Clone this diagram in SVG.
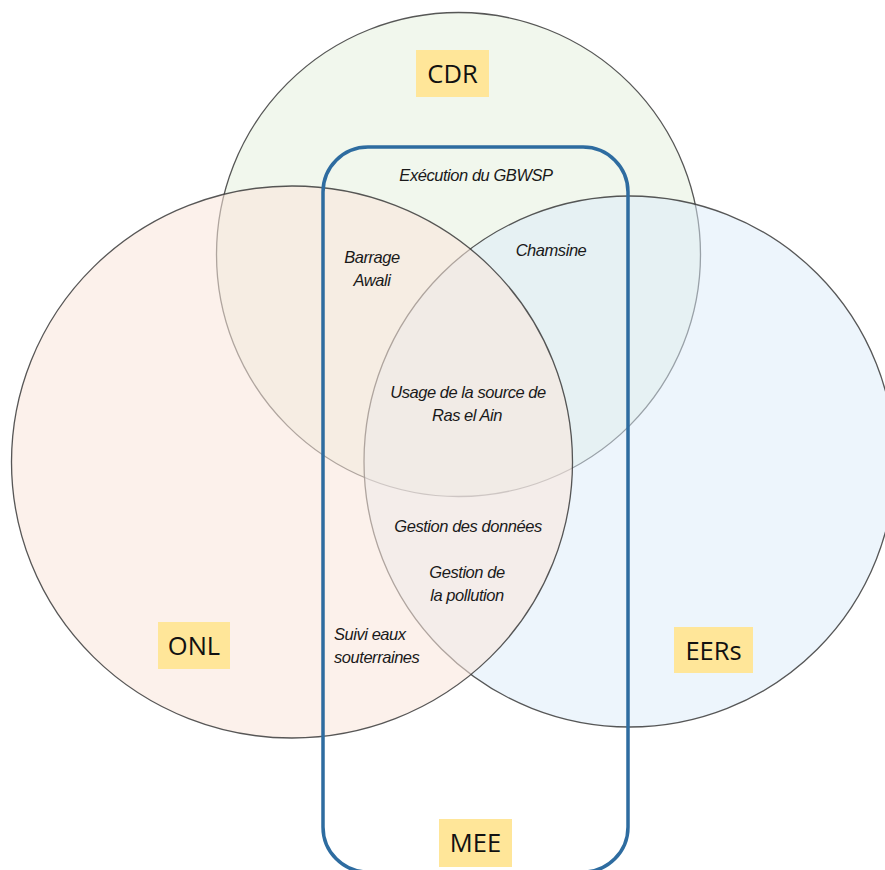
<svg xmlns="http://www.w3.org/2000/svg" width="885" height="870" viewBox="0 0 885 870">
<style>
.circ{stroke:#3a3a3a;stroke-width:1.3;stroke-opacity:0.85}
.lbl{fill:#FFE699}
.big{font-family:"Open Sans","Liberation Sans",sans-serif;font-size:25.5px;fill:#111;text-anchor:middle}
.it{font-family:"Liberation Sans",Arial,sans-serif;font-style:italic;font-size:16.5px;fill:#1a1a1a;letter-spacing:-0.45px}
.c{text-anchor:middle}
</style>
<rect width="885" height="870" fill="#ffffff"/>
<g id="CDR">
<circle class="circ" cx="458.5" cy="254.5" r="242" fill="#E6F0DE" fill-opacity="0.55"/>
</g>
<g id="EERs">
<circle class="circ" cx="629.5" cy="461.5" r="265.5" fill="#DCEBF9" fill-opacity="0.5"/>
</g>
<g id="ONL">
<ellipse class="circ" cx="292" cy="462" rx="280.5" ry="276" fill="#F9E6DA" fill-opacity="0.55"/>
</g>
<g id="MEE">
<rect x="323" y="147" width="305" height="725" rx="45" ry="45" fill="none" stroke="#2E6CA0" stroke-width="3.5"/>
</g>
<g id="labels">
<rect class="lbl" x="416" y="50" width="73" height="47"/>
<text class="big" x="452.5" y="82.5">CDR</text>
<rect class="lbl" x="158" y="622" width="72" height="47"/>
<text class="big" x="194" y="654.5">ONL</text>
<rect class="lbl" x="674" y="627" width="79" height="46"/>
<text class="big" x="713.5" y="659.5">EERs</text>
<rect class="lbl" x="439" y="819" width="73" height="48"/>
<text class="big" x="475.5" y="851.5">MEE</text>
</g>
<g id="items">
<text class="it c" x="476" y="181">Exécution du GBWSP</text>
<text class="it c" x="372" y="263">Barrage</text>
<text class="it c" x="372" y="286">Awali</text>
<text class="it c" x="551" y="256">Chamsine</text>
<text class="it c" x="468" y="398">Usage de la source de</text>
<text class="it c" x="467" y="421">Ras el Ain</text>
<text class="it c" x="468" y="532">Gestion des données</text>
<text class="it c" x="467" y="578">Gestion de</text>
<text class="it c" x="467" y="601">la pollution</text>
<text class="it" x="334" y="640">Suivi eaux</text>
<text class="it" x="334" y="663">souterraines</text>
</g>
<g id="connectors"></g>
</svg>
